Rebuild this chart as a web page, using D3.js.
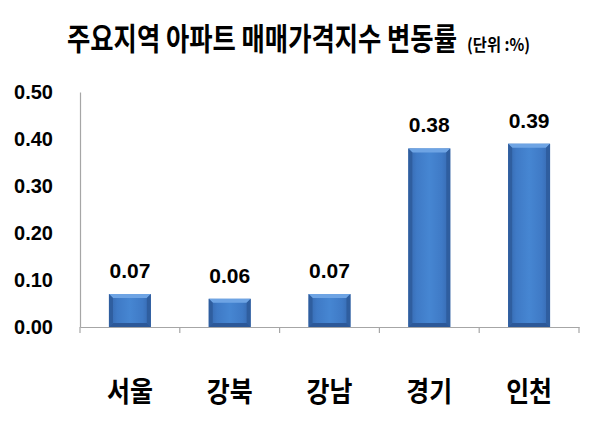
<!DOCTYPE html>
<html>
<head>
<meta charset="utf-8">
<script src="https://cdn.jsdelivr.net/npm/d3@7"></script>
<style>
  body { margin: 0; background: #fff; }
  #chart text { fill: #000; }
</style>
</head>
<body>
<div id="chart"></div>
<script>
const regions = ["서울", "강북", "강남", "경기", "인천"];
const changes = [0.07, 0.06, 0.07, 0.38, 0.39];
const yTicks = [0, 0.1, 0.2, 0.3, 0.4, 0.5];
const titleText = "주요지역 아파트 매매가격지수 변동률";
const unitText = "(단위 :%)";

const w = 597;
const h = 422;
const margin = { t: 92, r: 18, b: 95, l: 80 };

const svg = d3
  .select("#chart")
  .append("svg")
  .attr("width", w)
  .attr("height", h);

const defs = svg.append("defs");
const grad = defs
  .append("linearGradient")
  .attr("id", "barFill")
  .attr("x1", "0%").attr("x2", "100%")
  .attr("y1", "0%").attr("y2", "0%");
[["0%", "#3567ad"], ["20%", "#3f7ac6"], ["50%", "#4686d2"], ["80%", "#3f7ac6"], ["100%", "#3567ad"]]
  .forEach(([o, c]) => grad.append("stop").attr("offset", o).attr("stop-color", c));

const x = d3
  .scaleBand()
  .domain(regions)
  .range([margin.l, w - margin.r])
  .padding(0);

const y = d3
  .scaleLinear()
  .domain([0, 0.5])
  .range([h - margin.b, margin.t]);

const barW = x.bandwidth() * 0.42;
const bev = 4;

// squeeze a text horizontally so it fits a given width (the original font is narrow)
function fitWidth(sel, width) {
  sel.each(function () {
    const t = d3.select(this);
    const len = this.getComputedTextLength();
    const cx = +t.attr("x") || 0;
    const cy = +t.attr("y") || 0;
    const k = width / len;
    t.attr("transform", `translate(${cx},${cy}) scale(${k},1) translate(${-cx},${-cy})`);
  });
}

// title
svg.append("text")
  .attr("x", 262)
  .attr("y", 50)
  .attr("text-anchor", "middle")
  .style("font-family", "'Noto Sans CJK KR', sans-serif")
  .style("font-weight", "bold")
  .style("font-size", "31px")
  .text(titleText)
  .call(fitWidth, 390);

svg.append("text")
  .attr("x", 498.5)
  .attr("y", 51)
  .attr("text-anchor", "middle")
  .style("font-family", "'Noto Sans CJK KR', sans-serif")
  .style("font-weight", "bold")
  .style("font-size", "17px")
  .text(unitText)
  .call(fitWidth, 63);

// y axis
const yAxisG = svg
  .append("g")
  .attr("transform", `translate(${margin.l}, 0)`)
  .call(
    d3.axisLeft(y)
      .tickValues(yTicks)
      .tickSize(0)
      .tickPadding(27)
      .tickFormat(d3.format(".2f"))
  );
yAxisG.select(".domain").attr("stroke", "#a6a6a6").attr("stroke-width", 1.2);
yAxisG.selectAll("text")
  .style("font-family", "'Liberation Sans', Arial, sans-serif")
  .style("font-weight", "bold")
  .style("font-size", "20px");

// x axis
const xAxisG = svg
  .append("g")
  .attr("transform", `translate(0, ${y(0)})`)
  .call(d3.axisBottom(x).tickSize(0).tickPadding(0));
xAxisG.select(".domain").attr("stroke", "#a6a6a6").attr("stroke-width", 1.2);
xAxisG.selectAll(".tick text")
  .attr("dy", null)
  .attr("y", 75)
  .style("font-family", "'Noto Sans CJK KR', sans-serif")
  .style("font-weight", "bold")
  .style("font-size", "28px")
  .call(fitWidth, 46);

// category boundary ticks
const bounds = regions.map((d) => x(d)).concat([x.range()[1]]);
xAxisG.selectAll("line.bound")
  .data(bounds)
  .join("line")
  .attr("class", "bound")
  .attr("x1", (d) => d).attr("x2", (d) => d)
  .attr("y1", 0).attr("y2", 6)
  .attr("stroke", "#a6a6a6")
  .attr("stroke-width", 1.2);

// bars
const data = regions.map((r, i) => ({ region: r, value: changes[i] }));
const barG = svg.append("g");
const bars = barG.selectAll("g.bar")
  .data(data)
  .join("g")
  .attr("class", "bar");

bars.each(function (d) {
  const g = d3.select(this);
  const x0 = x(d.region) + (x.bandwidth() - barW) / 2;
  const x1 = x0 + barW;
  const y0 = y(d.value);
  const y1 = y(0);
  g.append("rect")
    .attr("x", x0).attr("y", y0)
    .attr("width", barW).attr("height", y1 - y0)
    .attr("fill", "url(#barFill)");
  // bevel edges
  g.append("polygon")
    .attr("points", [[x0, y0], [x1, y0], [x1 - bev, y0 + bev], [x0 + bev, y0 + bev]].join(" "))
    .attr("fill", "#6ea4e4");
  g.append("polygon")
    .attr("points", [[x0, y0], [x0 + bev, y0 + bev], [x0 + bev, y1 - bev], [x0, y1]].join(" "))
    .attr("fill", "#2f5e9f");
  g.append("polygon")
    .attr("points", [[x1, y0], [x1 - bev, y0 + bev], [x1 - bev, y1 - bev], [x1, y1]].join(" "))
    .attr("fill", "#2f5e9f");
  g.append("polygon")
    .attr("points", [[x0, y1], [x0 + bev, y1 - bev], [x1 - bev, y1 - bev], [x1, y1]].join(" "))
    .attr("fill", "#2c5898");
});

// value labels
barG.selectAll("text.val")
  .data(data)
  .join("text")
  .attr("class", "val")
  .attr("x", (d) => x(d.region) + x.bandwidth() / 2)
  .attr("y", (d) => y(d.value) - 16)
  .attr("text-anchor", "middle")
  .style("font-family", "'Liberation Sans', Arial, sans-serif")
  .style("font-weight", "bold")
  .style("font-size", "21px")
  .text((d) => d3.format(".2f")(d.value));
</script>
</body>
</html>
